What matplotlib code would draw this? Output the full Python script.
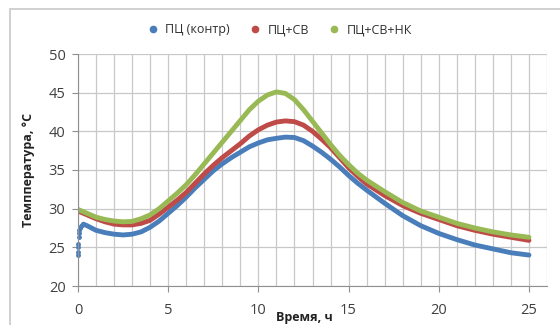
import matplotlib
matplotlib.use("Agg")
import matplotlib.pyplot as plt
from matplotlib.patches import Rectangle

plt.rcParams['font.family'] = ['Open Sans', 'DejaVu Sans']

# time, h
t = [0, 0.5, 1, 1.5, 2, 2.5, 3, 3.5, 4, 4.5, 5, 5.5, 6, 6.5, 7, 7.5, 8, 8.5, 9, 9.5,
     10, 10.5, 11, 11.5, 12, 12.5, 13, 13.5, 14, 14.5, 15, 15.5,
     16, 17, 18, 19, 20, 21, 22, 23, 24, 25]

# ПЦ (контр), starts at 0.3 h (first value of t replaced)
blue_t = [0.3] + t[1:]
blue = [28.0, 27.8, 27.2, 26.9, 26.7, 26.6, 26.7, 27.0, 27.6, 28.4, 29.4, 30.4, 31.5, 32.7, 33.8, 34.9, 35.8, 36.6, 37.3, 38.0,
        38.5, 38.9, 39.1, 39.25, 39.2, 38.8, 38.1, 37.3, 36.4, 35.4, 34.3, 33.3,
        32.4, 30.7, 29.1, 27.8, 26.8, 26.0, 25.3, 24.8, 24.3, 24.0]
# early scattered readings of the control
blue_t0 = [0.0, 0.0, 0.02, 0.02, 0.04, 0.05, 0.07, 0.1, 0.15, 0.2]
blue_v0 = [24.0, 24.4, 25.0, 25.4, 26.3, 26.8, 27.2, 27.5, 27.8, 27.9]

# ПЦ+СВ
red = [29.7, 29.2, 28.7, 28.3, 28.0, 27.9, 27.9, 28.1, 28.5, 29.3, 30.2, 31.1, 32.1, 33.3, 34.5, 35.6, 36.6, 37.5, 38.4, 39.4,
       40.2, 40.8, 41.2, 41.35, 41.25, 40.8, 40.0, 39.0, 37.9, 36.6, 35.3, 34.2,
       33.2, 31.7, 30.4, 29.4, 28.6, 27.8, 27.2, 26.7, 26.3, 25.9]

# ПЦ+СВ+НК
green = [29.9, 29.4, 28.9, 28.6, 28.4, 28.3, 28.35, 28.7, 29.2, 30.0, 31.0, 32.0, 33.1, 34.4, 35.8, 37.2, 38.6, 40.0, 41.4, 42.8,
         43.9, 44.7, 45.1, 44.9, 44.1, 42.8, 41.3, 39.8, 38.3, 36.9, 35.7, 34.6,
         33.7, 32.2, 30.8, 29.7, 28.9, 28.1, 27.5, 27.0, 26.6, 26.3]

labels = ["ПЦ (контр)", "ПЦ+СВ", "ПЦ+СВ+НК"]

c_blue = "#4a7ebb"
c_red = "#be4b48"
c_green = "#98b954"

fig = plt.figure(figsize=(5.6, 3.25), dpi=100)
fig.patches.append(Rectangle((10 / 560, -0.1), 1.1, 1 - 9 / 325 + 0.1, transform=fig.transFigure,
                             fill=False, edgecolor="#c8c8c8", linewidth=1.2))
ax = fig.add_axes([78 / 560, 1 - 286 / 325, (547 - 78) / 560, (286 - 54) / 325])

ax.set_xlim(0, 26)
ax.set_ylim(20, 50)
ax.set_xticks(range(0, 30, 5))
ax.set_xticks(range(0, 27), minor=True)
ax.set_yticks(range(20, 55, 5))
ax.grid(True, which="both", axis="x", color="#c8c8c8", linewidth=0.9)
ax.grid(True, which="major", axis="y", color="#c8c8c8", linewidth=0.9)
ax.set_axisbelow(True)
for s in ["top", "right"]:
    ax.spines[s].set_visible(False)
for s in ["left", "bottom"]:
    ax.spines[s].set_color("#909090")
ax.tick_params(which="major", length=4, color="#909090", labelsize=10.5, labelcolor="#404040", pad=5)
ax.tick_params(axis="x", which="major", pad=8)
ax.tick_params(which="minor", length=0)

kw = dict(lw=3.5, solid_capstyle="round", solid_joinstyle="round")
ax.plot(blue_t, blue, color=c_blue, **kw)
ax.plot(blue_t0, blue_v0, "o", color=c_blue, ms=2.5, lw=0, clip_on=False)
ax.plot(t, red, color=c_red, **kw)
ax.plot(t, green, color=c_green, **kw)

ax.set_ylabel("Темппература, °С", fontsize=9, fontweight="bold", color="#222222", labelpad=10)
fig.text(304 / 560, 1 - 317 / 325, "Время, ч", fontsize=9, fontweight="bold", color="#222222",
         ha="center", va="center")

cols = [c_blue, c_red, c_green]
handles = [plt.Line2D([], [], marker="o", ls="", color=c, ms=4.5) for c in cols]
fig.legend(handles, labels, loc="center", bbox_to_anchor=(276 / 560, 1 - 30 / 325), ncol=3, frameon=False,
           fontsize=9, handletextpad=0.0, columnspacing=1.0, labelcolor="#303030")

fig.savefig("out.png", dpi=100)
